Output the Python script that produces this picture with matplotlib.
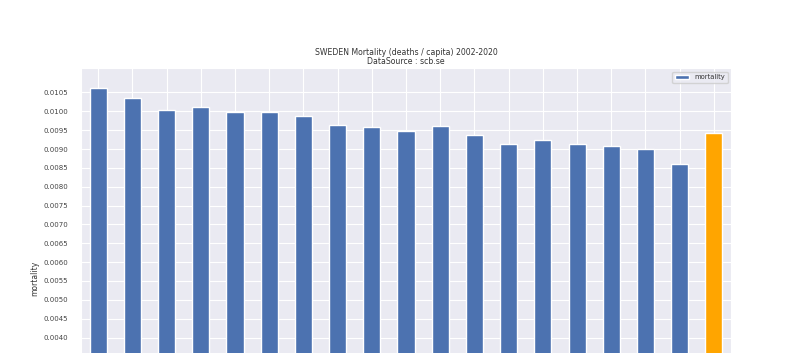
import numpy as np
import matplotlib
matplotlib.use("Agg")
import matplotlib.pyplot as plt
import seaborn as sns
from matplotlib.ticker import FormatStrFormatter

years = [str(y) for y in range(2002, 2021)]
mortality = [0.01061, 0.01036, 0.01003, 0.01012, 0.00999, 0.00997, 0.00987,
             0.00963, 0.00959, 0.00948, 0.00962, 0.00938, 0.00912, 0.00923,
             0.00912, 0.00909, 0.00901, 0.00859, 0.00942]
yticks = np.arange(0, 0.01055, 0.0005)

sns.set_style("darkgrid")
plt.rcParams['font.family'] = ['DejaVu Sans']

W, H = 790, 353
fig = plt.figure(figsize=(W / 100, H / 100), dpi=100)
# the picture is a crop: the axes go on below its bottom edge
ax_top, ax_bottom = 68.3, 488.4
ax = fig.add_axes([81 / W, (H - ax_bottom) / H, 650 / W, (ax_bottom - ax_top) / H])

colors = ['#4c72b0'] * (len(years) - 1) + ['orange']
x = np.arange(len(years))
ax.bar(x, mortality, width=0.5, color=colors, label='mortality', zorder=2)
ax.set_xlim(-0.5, len(years) - 0.5)
ax.set_ylim(0, max(mortality) * 1.05)
ax.set_xticks(x)
ax.set_xticklabels(years)
ax.tick_params(axis='x', labelbottom=False)
ax.set_yticks(yticks)
ax.yaxis.set_major_formatter(FormatStrFormatter('%.4f'))
ax.tick_params(axis='y', labelsize=5, colors='#444444', pad=5.5)
ax.set_ylabel('mortality', fontsize=5.5, color='#333333', labelpad=3)

ax.set_title('SWEDEN Mortality (deaths / capita) 2002-2020\nDataSource : scb.se',
             fontsize=5.6, color='#333333', pad=2.8, linespacing=1.05)

leg = ax.legend(loc='upper right', fontsize=4.9, frameon=True)
for t in leg.get_texts():
    t.set_color('#333333')

fig.savefig('out.png', dpi=100)
